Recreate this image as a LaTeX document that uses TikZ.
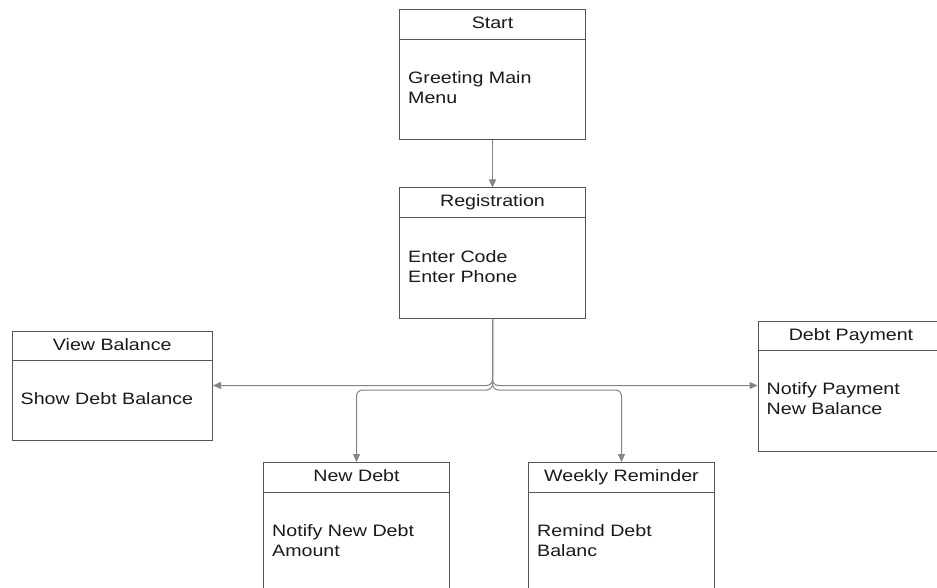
\documentclass[tikz,border=0pt]{standalone}
\usepackage{fontspec}
\setmainfont{Liberation Sans}[FakeStretch=1.19]
\usetikzlibrary{arrows.meta}
\definecolor{boxc}{HTML}{555555}
\definecolor{linec}{HTML}{858585}
\definecolor{txt}{HTML}{1A1A1A}
\tikzset{
  umlbox/.style={draw=boxc, line width=1pt, anchor=north west, inner sep=0pt},
  divider/.style={draw=boxc, line width=1pt},
  lbl/.style={inner sep=0pt, text=txt, font=\fontsize{16.5}{20}\selectfont},
  conn/.style={draw=linec, line width=1pt, rounded corners=6pt,
    -{Triangle[length=8pt,width=7pt]}, }
}
\newcommand\mkbox[6]{% name x y w h title
  \node[umlbox, minimum width=#4pt, minimum height=#5pt] (#1) at (#2,#3) {};
  \draw[divider] ([yshift=-30pt]#1.north west) -- ([yshift=-30pt]#1.north east);
  \node[lbl, anchor=base] (#1-t) at ([yshift=-19.5pt]#1.north) {#6};
}
\begin{document}
\begin{tikzpicture}[x=1pt,y=-1pt]
\useasboundingbox (0,0) rectangle (937,588);
\clip (0,0) rectangle (937,588);
\fill[white] (0,0) rectangle (937,588);

\mkbox{start}{399}{9.5}{186}{130}{Start}
\node[lbl, anchor=base west] (start-a) at ([xshift=9pt,yshift=-74.5pt]start.north west) {Greeting Main};
\node[lbl, anchor=base west] (start-b) at ([yshift=-20pt]start-a.base west) {Menu};

\mkbox{reg}{399}{187.5}{186}{130}{Registration}
\node[lbl, anchor=base west] (reg-a) at ([xshift=9pt,yshift=-74.5pt]reg.north west) {Enter Code};
\node[lbl, anchor=base west] (reg-b) at ([yshift=-20pt]reg-a.base west) {Enter Phone};

\mkbox{view}{11.5}{330.5}{200.5}{109.5}{View Balance}
\node[lbl, anchor=base west] (view-a) at ([xshift=9pt,yshift=-74pt]view.north west) {Show Debt Balance};

\mkbox{pay}{757.5}{320.5}{186}{130}{Debt Payment}
\node[lbl, anchor=base west] (pay-a) at ([xshift=9pt,yshift=-74pt]pay.north west) {Notify Payment};
\node[lbl, anchor=base west] (pay-b) at ([yshift=-20pt]pay-a.base west) {New Balance};

\mkbox{newd}{263}{462}{186}{130}{New Debt}
\node[lbl, anchor=base west] (newd-a) at ([xshift=9pt,yshift=-74pt]newd.north west) {Notify New Debt};
\node[lbl, anchor=base west] (newd-b) at ([yshift=-20pt]newd-a.base west) {Amount};

\mkbox{week}{528}{462}{186}{130}{Weekly Reminder}
\node[lbl, anchor=base west] (week-a) at ([xshift=9pt,yshift=-74pt]week.north west) {Remind Debt};
\node[lbl, anchor=base west] (week-b) at ([yshift=-20pt]week-a.base west) {Balanc};

\coordinate (ysplit) at (0,385.5);
\coordinate (ybranch) at (0,390);

\draw[conn] (start) -- (reg);
\draw[conn] (reg.south) -- (reg.south |- ysplit) -- (view.east |- ysplit);
\draw[conn] (reg.south) -- (reg.south |- ysplit) -- (pay.west |- ysplit);
\draw[conn] (reg.south) -- (reg.south |- ybranch) -- (newd.north |- ybranch) -- (newd.north);
\draw[conn] (reg.south) -- (reg.south |- ybranch) -- (week.north |- ybranch) -- (week.north);
\end{tikzpicture}
\end{document}
